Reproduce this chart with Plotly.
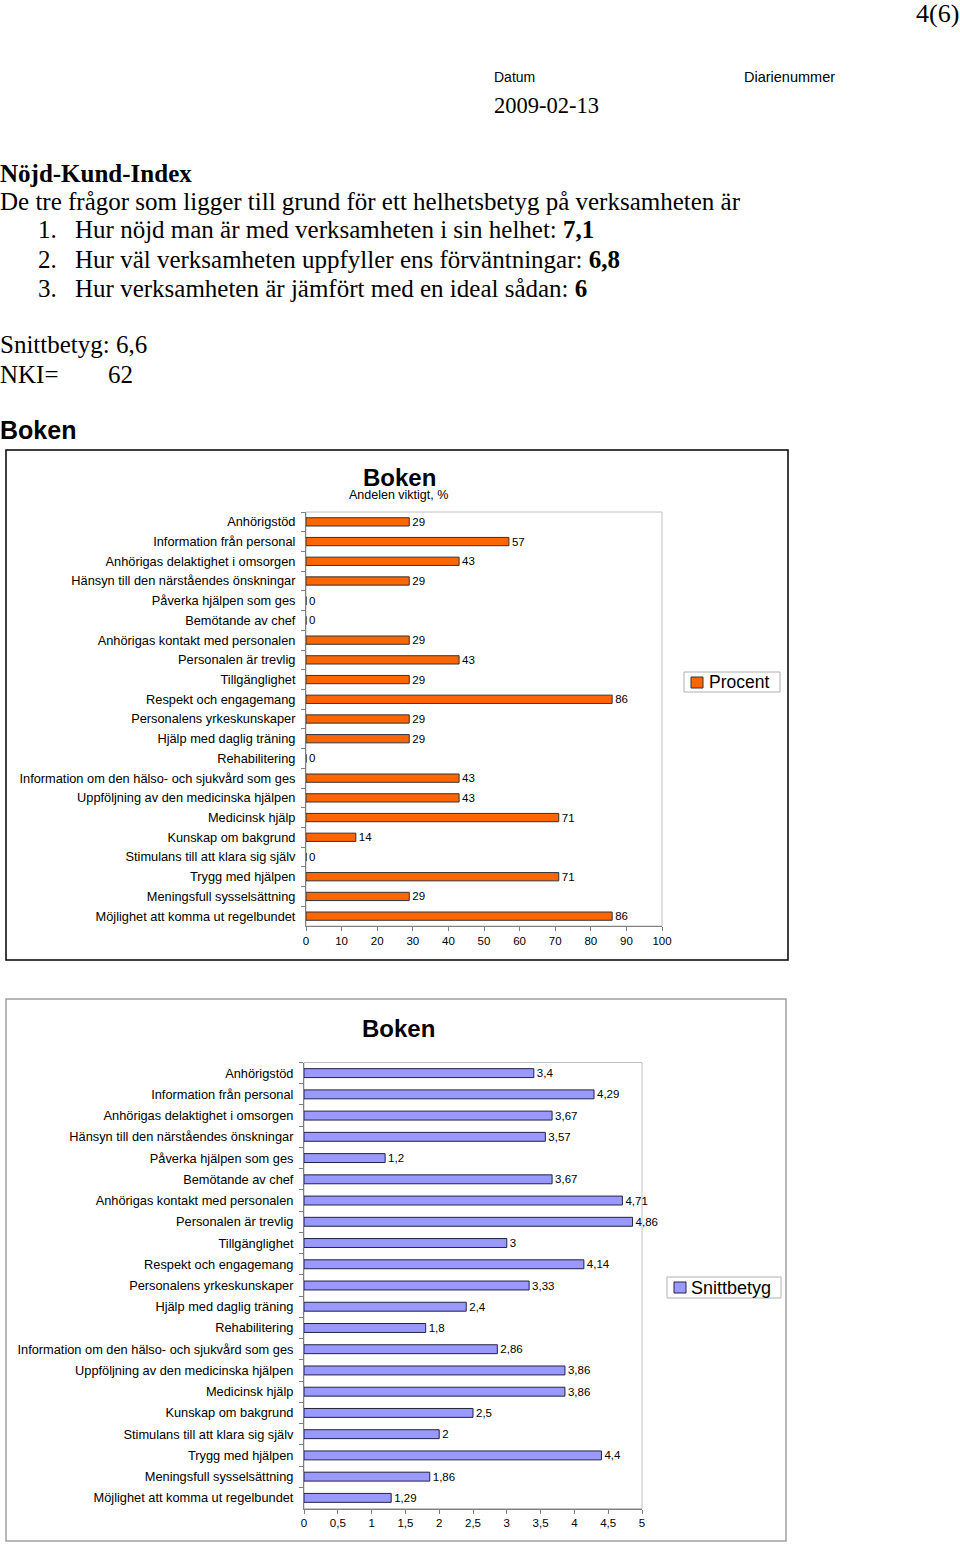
import plotly.graph_objects as go

W, H = 960, 1546      # reference page size, used for paper-coordinate mapping
FIG_W = 973           # rendered canvas width (captured area is slightly wider than 960)
X_SHIFT = 3           # constant horizontal offset observed in the captured page

categories = [
    "Anhörigstöd",
    "Information från personal",
    "Anhörigas delaktighet i omsorgen",
    "Hänsyn till den närståendes önskningar",
    "Påverka hjälpen som ges",
    "Bemötande av chef",
    "Anhörigas kontakt med personalen",
    "Personalen är trevlig",
    "Tillgänglighet",
    "Respekt och engagemang",
    "Personalens yrkeskunskaper",
    "Hjälp med daglig träning",
    "Rehabilitering",
    "Information om den hälso- och sjukvård som ges",
    "Uppföljning av den medicinska hjälpen",
    "Medicinsk hjälp",
    "Kunskap om bakgrund",
    "Stimulans till att klara sig själv",
    "Trygg med hjälpen",
    "Meningsfull sysselsättning",
    "Möjlighet att komma ut regelbundet",
]
procent = [29, 57, 43, 29, 0, 0, 29, 43, 29, 86, 29, 29, 0, 43, 43, 71, 14, 0, 71, 29, 86]
snittbetyg = [3.4, 4.29, 3.67, 3.57, 1.2, 3.67, 4.71, 4.86, 3, 4.14, 3.33, 2.4, 1.8,
              2.86, 3.86, 3.86, 2.5, 2, 4.4, 1.86, 1.29]

ORANGE = "#FF6600"
LILAC = "#9999FF"

def px(x):
    return (x - X_SHIFT) / W

def py(y):
    return 1 - y / H

def fmt(v):
    return ("%g" % v).replace(".", ",")

serif = "Liberation Serif, Times New Roman"
sans = "Liberation Sans, Arial"

fig = go.Figure()

fig.add_trace(go.Bar(
    y=categories, x=procent, orientation="h", name="Procent",
    marker=dict(color=ORANGE, line=dict(color="#333333", width=1)),
    width=0.42, text=[fmt(v) for v in procent], textposition="outside",
    constraintext="none",
    textfont=dict(family=sans, size=11.5, color="black"),
    cliponaxis=False, xaxis="x", yaxis="y", showlegend=False,
))
fig.add_trace(go.Bar(
    y=categories, x=snittbetyg, orientation="h", name="Snittbetyg",
    marker=dict(color=LILAC, line=dict(color="#222244", width=1)),
    width=0.42, text=[fmt(v) for v in snittbetyg], textposition="outside",
    constraintext="none",
    textfont=dict(family=sans, size=11.5, color="black"),
    cliponaxis=False, xaxis="x2", yaxis="y2", showlegend=False,
))

xtickfont = dict(family=sans, size=11.5, color="black")
ytickfont = dict(family=sans, size=12.8, color="black")

axis_common = dict(showgrid=False, zeroline=False, showline=True, linecolor="#808080",
                   linewidth=1, ticks="outside", ticklen=4, tickcolor="#808080",
                   fixedrange=True)

fig.update_layout(
    width=FIG_W, height=H, autosize=False, margin=dict(l=0, r=0, t=0, b=0),
    paper_bgcolor="white", plot_bgcolor="white",
    separators=", ",
    showlegend=False,
    xaxis=dict(domain=[px(306), px(662)], anchor="y", range=[0, 100], dtick=10,
               tickfont=xtickfont, **axis_common),
    yaxis=dict(domain=[py(926), py(512)], anchor="x", autorange="reversed",
               tickson="boundaries", ticklabelstandoff=7, tickfont=ytickfont, **axis_common),
    xaxis2=dict(domain=[px(304), px(642)], anchor="y2", range=[0, 5], dtick=0.5,
                tickfont=xtickfont, **axis_common),
    yaxis2=dict(domain=[py(1508.5), py(1062.5)], anchor="x2", autorange="reversed",
                tickson="boundaries", ticklabelstandoff=7, tickfont=ytickfont, **axis_common),
)

shapes = [
    # chart boxes
    dict(type="rect", xref="paper", yref="paper", x0=px(6), x1=px(788), y0=py(960), y1=py(450),
         line=dict(color="black", width=1.5)),
    dict(type="rect", xref="paper", yref="paper", x0=px(6), x1=px(786), y0=py(1541), y1=py(999),
         line=dict(color="#a0a0a0", width=1.5)),
    # plot area borders
    dict(type="rect", xref="x domain", yref="y domain", x0=0, x1=1, y0=0, y1=1,
         line=dict(color="#c0c0c0", width=1), layer="below"),
    dict(type="rect", xref="x2 domain", yref="y2 domain", x0=0, x1=1, y0=0, y1=1,
         line=dict(color="#c0c0c0", width=1), layer="below"),
    # legend boxes
    dict(type="rect", xref="paper", yref="paper", x0=px(684), x1=px(780), y0=py(692), y1=py(672),
         line=dict(color="#b0b0b0", width=1), fillcolor="white"),
    dict(type="rect", xref="paper", yref="paper", x0=px(691), x1=px(703), y0=py(688), y1=py(677),
         line=dict(color="#333333", width=1), fillcolor=ORANGE),
    dict(type="rect", xref="paper", yref="paper", x0=px(667), x1=px(781), y0=py(1298), y1=py(1277),
         line=dict(color="#b0b0b0", width=1), fillcolor="white"),
    dict(type="rect", xref="paper", yref="paper", x0=px(674), x1=px(686), y0=py(1293), y1=py(1282),
         line=dict(color="#222244", width=1), fillcolor=LILAC),
]
fig.update_layout(shapes=shapes)

def txt(x, y, s, size, family=serif, anchor="left", yanchor="middle"):
    fig.add_annotation(x=px(x), y=py(y), xref="paper", yref="paper", text=s,
                       showarrow=False, xanchor=anchor, yanchor=yanchor, borderpad=0,
                       font=dict(family=family, size=size, color="black"))

txt(960, 13, "4(6)", 26, anchor="right")
txt(493, 77, "Datum", 14, family=sans)
txt(743, 77, "Diarienummer", 14.5, family=sans)
txt(493, 105, "2009-02-13", 22.5)
txt(-1, 173, "<b>Nöjd-Kund-Index</b>", 25)
txt(-1, 202, "De tre frågor som ligger till grund för ett helhetsbetyg på verksamheten är", 25)
txt(37, 230, "1.", 25)
txt(74, 230, "Hur nöjd man är med verksamheten i sin helhet: <b>7,1</b>", 25)
txt(37, 259, "2.", 25)
txt(74, 259, "Hur väl verksamheten uppfyller ens förväntningar: <b>6,8</b>", 25)
txt(37, 288, "3.", 25)
txt(74, 288, "Hur verksamheten är jämfört med en ideal sådan: <b>6</b>", 25)
txt(-1, 345, "Snittbetyg: 6,6", 25)
txt(-1, 374, "NKI=", 25)
txt(107, 374, "62", 25)
txt(-1, 430, "<b>Boken</b>", 25, family=sans)

txt(399, 477, "<b>Boken</b>", 24, family=sans, anchor="center")
txt(398, 495, "Andelen viktigt, %", 12.5, family=sans, anchor="center")
txt(398, 1028, "<b>Boken</b>", 24, family=sans, anchor="center")

txt(708, 682, "Procent", 17.5, family=sans)
txt(690, 1288, "Snittbetyg", 18, family=sans)

fig.write_html(
    "out.html",
    config={"displayModeBar": False, "responsive": False},
    post_script=(
        "document.documentElement.style.overflow='hidden';"
        "document.body.style.overflow='hidden';"
        "document.body.style.margin='0';document.body.style.padding='0';"
    ),
)
